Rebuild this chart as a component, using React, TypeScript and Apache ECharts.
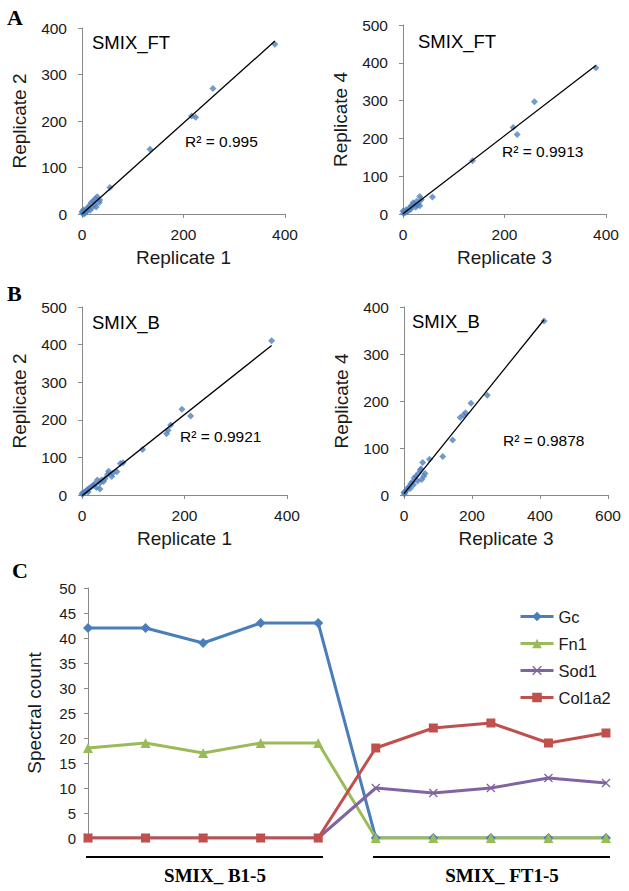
import React, { useEffect, useRef } from "react";
import * as echarts from "echarts";

// Panel A: SMIX_FT replicate comparisons
const a1Points: number[][] = [
  [380, 365], [258, 270], [216, 211], [224, 208], [134, 139], [55, 57],
  [30, 37], [34, 25], [28, 15], [22, 28], [18, 24], [14, 18], [12, 12],
  [8, 10], [5, 6], [3, 9], [2, 3], [1, 1], [6, 2], [10, 6], [20, 14],
  [25, 20], [16, 8], [0, 5], [4, 0], [35, 30], [26, 33],
];
const a2Points: number[][] = [
  [380, 387], [259, 297], [217, 229], [225, 210], [137, 141], [58, 45],
  [33, 46], [36, 38], [27, 34], [22, 26], [18, 20], [12, 15], [6, 11],
  [2, 6], [30, 28], [20, 30], [33, 22], [8, 6], [25, 18], [15, 12],
  [10, 9], [4, 3], [1, 1], [0, 8], [28, 24], [16, 22],
];
// Panel B: SMIX_B replicate comparisons
const b1Points: number[][] = [
  [370, 410], [195, 228], [212, 210], [173, 186], [168, 172], [165, 163],
  [118, 121], [80, 86], [75, 84], [68, 62], [52, 63], [58, 49], [50, 55],
  [45, 44], [38, 40], [35, 32], [35, 16], [30, 40], [25, 30], [22, 26],
  [18, 22], [14, 18], [10, 14], [8, 10], [5, 8], [3, 5], [1, 2], [0, 4],
  [12, 8], [28, 20], [42, 36], [60, 58],
];
const b2Points: number[][] = [
  [412, 370], [245, 212], [197, 195], [181, 175], [175, 170], [165, 165],
  [143, 117], [114, 82], [75, 76], [55, 69], [62, 46], [52, 33], [48, 53],
  [42, 46], [58, 40], [35, 40], [30, 36], [25, 28], [20, 24], [15, 18],
  [10, 14], [6, 9], [3, 5], [1, 2], [0, 6], [18, 14], [28, 22], [40, 30],
  [50, 56],
];
const r2Labels = ["R² = 0.995", "R² = 0.9913", "R² = 0.9921", "R² = 0.9878"];

// Panel C: spectral counts
const samples = ["B1", "B2", "B3", "B4", "B5", "FT1", "FT2", "FT3", "FT4", "FT5"];
const gc = [42, 42, 39, 43, 43, 0, 0, 0, 0, 0];
const fn1 = [18, 19, 17, 19, 19, 0, 0, 0, 0, 0];
const sod1 = [0, 0, 0, 0, 0, 10, 9, 10, 12, 11];
const col1a2 = [0, 0, 0, 0, 0, 18, 22, 23, 19, 21];
const cTicksMax = 50;

const FONT = "Liberation Sans, Arial, sans-serif";
const SERIF = "Liberation Serif, Times New Roman, serif";
const AXIS_GRAY = "#8a8a8a";
const BLUE = "#4F81BD";

function fit(points: number[][]): number[][] {
  const n = points.length;
  let sx = 0, sy = 0, sxx = 0, sxy = 0;
  points.forEach(([x, y]) => { sx += x; sy += y; sxx += x * x; sxy += x * y; });
  const b = (n * sxy - sx * sy) / (n * sxx - sx * sx);
  const a = (sy - b * sx) / n;
  const xs = points.map((p) => p[0]);
  const x0 = Math.min(...xs), x1 = Math.max(...xs);
  return [[x0, a + b * x0], [x1, a + b * x1]];
}

export default function App() {
  const ref = useRef<HTMLDivElement>(null);
  useEffect(() => {
    if (!ref.current) return;
    const chart = echarts.init(ref.current, undefined, { renderer: "svg" });

    const panels = [
      { pts: a1Points, grid: { left: 82, top: 28, width: 203, height: 186 }, xmax: 400, ymax: 400, xi: 200, xname: "Replicate 1", yname: "Replicate 2" },
      { pts: a2Points, grid: { left: 403, top: 25, width: 203, height: 189 }, xmax: 400, ymax: 500, xi: 200, xname: "Replicate 3", yname: "Replicate 4" },
      { pts: b1Points, grid: { left: 82, top: 307, width: 205, height: 188 }, xmax: 400, ymax: 500, xi: 200, xname: "Replicate 1", yname: "Replicate 2" },
      { pts: b2Points, grid: { left: 404, top: 307, width: 204, height: 188 }, xmax: 600, ymax: 400, xi: 200, xname: "Replicate 3", yname: "Replicate 4" },
    ];

    const grids: any[] = panels.map((p) => ({ ...p.grid, containLabel: false }));
    grids.push({ left: 88, top: 588, width: 518, height: 250 });

    const axisLine = { show: true, lineStyle: { color: AXIS_GRAY, width: 1 } };
    const axisTick = { show: true, length: 4, lineStyle: { color: AXIS_GRAY } };

    const xAxes: any[] = panels.map((p, i) => ({
      type: "value", gridIndex: i, min: 0, max: p.xmax, interval: p.xi,
      axisLine, axisTick, splitLine: { show: false },
      axisLabel: { fontSize: 15.5, fontFamily: FONT, color: "#1a1a1a", margin: 12 },
      name: p.xname, nameLocation: "middle", nameGap: 34,
      nameTextStyle: { fontSize: 19, fontFamily: FONT, color: "#1a1a1a" },
    }));
    xAxes.push({
      type: "category", gridIndex: 4, data: samples, boundaryGap: false,
      axisLine: { show: false }, axisTick: { show: false }, axisLabel: { show: false },
    });

    const yAxes: any[] = panels.map((p, i) => ({
      type: "value", gridIndex: i, min: 0, max: p.ymax, interval: 100,
      axisLine, axisTick, splitLine: { show: false },
      axisLabel: { fontSize: 15.5, fontFamily: FONT, color: "#1a1a1a", margin: 15 },
      name: p.yname, nameLocation: "middle", nameGap: 53,
      nameTextStyle: { fontSize: 19, fontFamily: FONT, color: "#1a1a1a" },
    }));
    yAxes.push({
      type: "value", gridIndex: 4, min: 0, max: cTicksMax, interval: 5,
      axisLine, axisTick, splitLine: { show: false },
      axisLabel: { fontSize: 15, fontFamily: FONT, color: "#1a1a1a", margin: 12 },
      name: "Spectral count", nameLocation: "middle", nameGap: 44,
      nameTextStyle: { fontSize: 19, fontFamily: FONT, color: "#1a1a1a" },
    });

    const series: any[] = [];
    panels.forEach((p, i) => {
      series.push({
        type: "scatter", xAxisIndex: i, yAxisIndex: i, data: p.pts,
        symbol: "diamond", symbolSize: 7, itemStyle: { color: BLUE },
      });
      series.push({
        type: "line", xAxisIndex: i, yAxisIndex: i, data: fit(p.pts),
        symbol: "none", lineStyle: { color: "#000", width: 1.3 }, z: 3,
      });
    });

    const xPath = "path://M0,1L1,0L5,4L9,0L10,1L6,5L10,9L9,10L5,6L1,10L0,9L4,5Z";
    const lineDefs = [
      { name: "Gc", data: gc, color: "#4A7EBB", symbol: "diamond", size: 10 },
      { name: "Fn1", data: fn1, color: "#9BBB59", symbol: "triangle", size: 10 },
      { name: "Sod1", data: sod1, color: "#8064A2", symbol: xPath, size: 9 },
      { name: "Col1a2", data: col1a2, color: "#C0504D", symbol: "rect", size: 9 },
    ];
    lineDefs.forEach((d) => {
      series.push({
        name: d.name, type: "line", xAxisIndex: 4, yAxisIndex: 4, data: d.data,
        symbol: d.symbol, symbolSize: d.size, showAllSymbol: true,
        lineStyle: { color: d.color, width: 3 }, itemStyle: { color: d.color },
      });
    });

    const label = (text: string, x: number, y: number, size: number, bold = false, serif = false) => ({
      type: "text", x, y,
      style: {
        text, fontSize: size, fontFamily: serif ? SERIF : FONT,
        fontWeight: bold ? "bold" : "normal", fill: "#000",
        textVerticalAlign: "middle",
      },
    });

    const graphic: any[] = [
      label("A", 7, 17, 22, true, true),
      label("B", 7, 293, 22, true, true),
      label("C", 12, 570, 22, true, true),
      label("SMIX_FT", 92, 42, 18.5),
      label("SMIX_FT", 418, 41, 18.5),
      label("SMIX_B", 92, 322, 18.5),
      label("SMIX_B", 412, 321, 18.5),
      label(r2Labels[0], 185, 141, 15.5),
      label(r2Labels[1], 502, 151, 15.5),
      label(r2Labels[2], 180, 436, 15.5),
      label(r2Labels[3], 503, 440, 15.5),
      { type: "line", shape: { x1: 86, y1: 857, x2: 323, y2: 857 }, style: { stroke: "#000", lineWidth: 2 } },
      { type: "line", shape: { x1: 373, y1: 857, x2: 610, y2: 857 }, style: { stroke: "#000", lineWidth: 2 } },
      {
        type: "text", x: 215, y: 875,
        style: { text: "SMIX_ B1-5", fontSize: 19, fontFamily: SERIF, fontWeight: "bold", fill: "#000", textAlign: "center", textVerticalAlign: "middle" },
      },
      {
        type: "text", x: 502, y: 875,
        style: { text: "SMIX_ FT1-5", fontSize: 19, fontFamily: SERIF, fontWeight: "bold", fill: "#000", textAlign: "center", textVerticalAlign: "middle" },
      },
    ];

    chart.setOption({
      animation: false,
      backgroundColor: "#fff",
      grid: grids,
      xAxis: xAxes,
      yAxis: yAxes,
      series,
      graphic,
      legend: {
        data: lineDefs.map((d) => d.name),
        orient: "vertical", left: 514, top: 603,
        itemWidth: 33, itemHeight: 12, itemGap: 10,
        lineStyle: { width: 3 },
        textStyle: { fontSize: 16.5, fontFamily: FONT, color: "#1a1a1a" },
      },
    });
    return () => chart.dispose();
  }, []);
  return <div ref={ref} style={{ position: "absolute", left: 0, top: 0, width: 629, height: 891 }} />;
}
